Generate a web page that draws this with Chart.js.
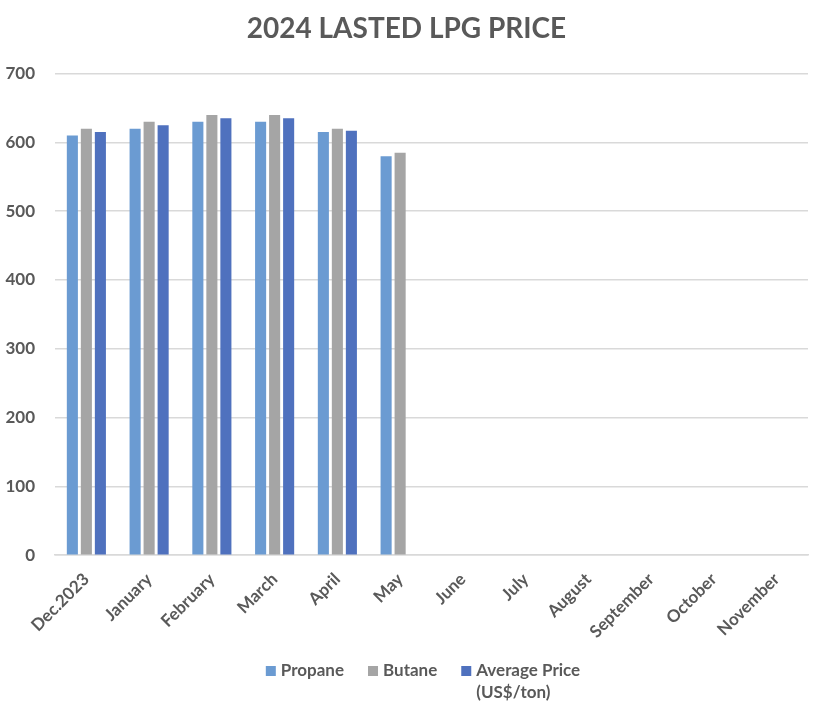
<!DOCTYPE html>
<html lang="en">
<head>
    <meta charset="UTF-8">
    <title>2024 LASTED LPG PRICE</title>
    <script src="https://cdn.jsdelivr.net/npm/chart.js"></script>
    <style>
        html, body { margin: 0; padding: 0; background: #fff; }
        .wrap { width: 826px; height: 714px; }
    </style>
</head>
<body>
<div class="wrap"><canvas id="lpgChart"></canvas></div>
<script>
    // data
    const months = ['Dec.2023', 'January', 'February', 'March', 'April', 'May',
                    'June', 'July', 'August', 'September', 'October', 'November'];
    const propane = [610, 620, 630, 630, 615, 580, null, null, null, null, null, null];
    const butane  = [620, 630, 640, 640, 620, 585, null, null, null, null, null, null];
    const average = [615, 625, 635, 635, 617, null, null, null, null, null, null, null];
    const yTicks = [0, 100, 200, 300, 400, 500, 600, 700];

    const grey = '#595959';
    const font = 'Lato, "Open Sans", sans-serif';

    // legend drawn by hand so the long label can wrap onto two lines
    const wrappedLegend = {
        id: 'wrappedLegend',
        afterDraw(chart) {
            const c = chart.ctx;
            const items = chart.data.datasets.map(ds => ({
                lines: [].concat(ds.label), color: ds.backgroundColor
            }));
            c.save();
            c.font = 'bold 17px ' + font;
            c.textBaseline = 'middle';
            c.textAlign = 'left';
            const box = 10, gap = 5, space = 24, lineH = 22;
            items.forEach(it => {
                it.w = box + gap + Math.max(...it.lines.map(l => c.measureText(l).width));
            });
            const total = items.reduce((s, it) => s + it.w, 0) + space * (items.length - 1);
            let x = chart.width / 2 + 10 - total / 2;
            const y = 671;
            items.forEach(it => {
                c.fillStyle = it.color;
                c.fillRect(x, y - box / 2, box, box);
                c.fillStyle = grey;
                it.lines.forEach((l, i) => c.fillText(l, x + box + gap, y + i * lineH));
                x += it.w + space;
            });
            c.restore();
        }
    };

    let ctx = document.getElementById('lpgChart').getContext('2d');
    new Chart(ctx, {
        type: 'bar',
        data: {
            labels: months,
            datasets: [
                { label: 'Propane', data: propane, backgroundColor: '#6b9bd2' },
                { label: 'Butane', data: butane, backgroundColor: '#a5a5a5' },
                { label: ['Average Price', '(US$/ton)'], data: average, backgroundColor: '#4f71be' }
            ]
        },
        options: {
            responsive: true,
            maintainAspectRatio: false,
            animation: false,
            layout: { padding: { left: 5, right: 18, top: 4, bottom: 66 } },
            datasets: { bar: { categoryPercentage: 0.67, barPercentage: 0.79 } },
            plugins: {
                title: {
                    display: true,
                    text: '2024 LASTED LPG PRICE',
                    color: grey,
                    font: { family: font, size: 28, weight: 'bold' },
                    padding: { top: 8, bottom: 28 }
                },
                legend: { display: false },
                tooltip: { enabled: false }
            },
            scales: {
                x: {
                    grid: { display: false },
                    border: { color: '#d9d9d9', width: 1.5 },
                    // let the first slanted label hang into the left margin
                    afterFit: s => { s.paddingLeft = 0; },
                    ticks: {
                        color: grey,
                        padding: 6,
                        font: { family: font, size: 17, weight: 'bold' },
                        maxRotation: 45,
                        minRotation: 45,
                        autoSkip: false
                    }
                },
                y: {
                    min: 0,
                    max: 700,
                    afterBuildTicks: axis => { axis.ticks = yTicks.map(v => ({ value: v })); },
                    afterFit: s => { s.width = 50; },
                    grid: { color: '#d9d9d9', lineWidth: 1.5, drawTicks: false },
                    border: { display: false },
                    ticks: {
                        color: grey,
                        padding: 20,
                        font: { family: font, size: 17, weight: 'bold' }
                    }
                }
            }
        },
        plugins: [wrappedLegend]
    });
</script>
</body>
</html>
